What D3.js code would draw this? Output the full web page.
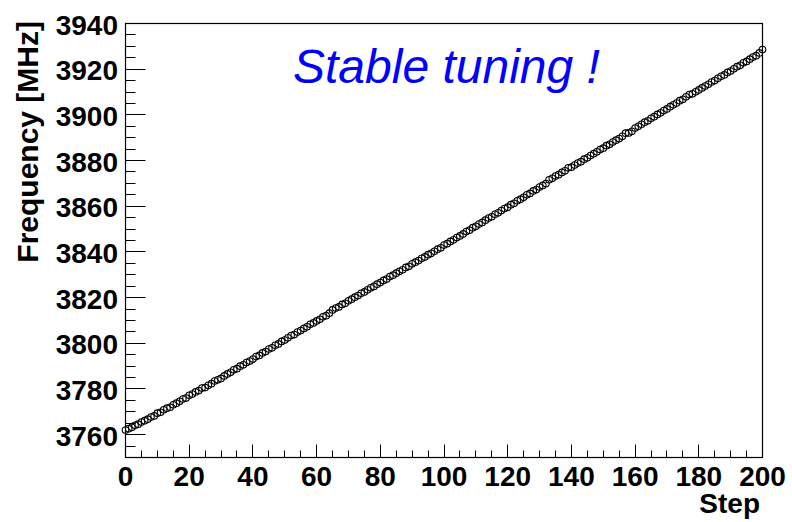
<!DOCTYPE html>
<html>
<head>
<meta charset="utf-8">
<script src="https://cdn.jsdelivr.net/npm/d3@7/dist/d3.min.js"></script>
<style>
  html, body { margin: 0; padding: 0; background: #fff; }
  svg { display: block; }
</style>
</head>
<body>
<svg id="chart" width="792" height="522"></svg>
<script>
'use strict';

// Frequency for steps 0..200
var FREQ = [
  3762.0, 3762.6, 3763.2, 3764.1, 3764.6, 3765.5, 3766.1, 3766.8, 3767.7, 3768.2,
  3769.4, 3769.8, 3770.9, 3771.6, 3772.0, 3773.1, 3773.8, 3774.6, 3775.6, 3776.0,
  3777.2, 3777.8, 3778.7, 3779.3, 3780.4, 3780.6, 3781.6, 3782.3, 3783.5, 3784.0,
  3784.6, 3785.7, 3786.6, 3787.3, 3788.4, 3788.9, 3790.0, 3790.6, 3791.6, 3792.2,
  3793.1, 3794.2, 3794.7, 3795.8, 3796.4, 3797.5, 3798.0, 3799.1, 3799.7, 3800.8,
  3801.4, 3802.4, 3803.4, 3803.8, 3804.9, 3805.6, 3806.5, 3807.2, 3808.3, 3808.9,
  3809.8, 3810.5, 3811.6, 3812.1, 3813.2, 3814.6, 3815.4, 3815.9, 3817.0, 3817.5,
  3818.6, 3819.3, 3820.2, 3820.9, 3821.9, 3822.5, 3823.4, 3824.3, 3824.9, 3825.9,
  3826.6, 3827.5, 3828.1, 3829.2, 3829.8, 3830.7, 3831.5, 3832.2, 3833.2, 3833.7,
  3834.8, 3835.5, 3836.2, 3837.2, 3837.8, 3838.8, 3839.4, 3840.3, 3841.2, 3841.8,
  3843.0, 3843.6, 3844.6, 3845.3, 3846.3, 3847.0, 3847.9, 3848.9, 3849.5, 3850.6,
  3851.2, 3852.2, 3852.9, 3853.9, 3854.8, 3855.4, 3856.5, 3857.1, 3858.1, 3859.0,
  3859.6, 3860.7, 3861.3, 3862.4, 3863.1, 3863.9, 3865.0, 3865.6, 3866.7, 3867.3,
  3868.4, 3869.1, 3869.9, 3871.6, 3872.2, 3873.2, 3873.8, 3874.8, 3875.5, 3876.8,
  3877.1, 3878.0, 3878.9, 3879.5, 3880.6, 3881.2, 3882.2, 3883.0, 3883.8, 3884.8,
  3885.4, 3886.5, 3887.1, 3888.1, 3888.9, 3889.6, 3890.6, 3892.0, 3892.1, 3892.8,
  3894.2, 3895.0, 3895.9, 3896.8, 3897.4, 3898.5, 3899.2, 3900.2, 3900.9, 3901.9,
  3902.6, 3903.6, 3904.4, 3905.2, 3906.2, 3906.8, 3907.9, 3908.9, 3909.2, 3910.1,
  3910.9, 3911.8, 3912.6, 3913.4, 3914.4, 3915.0, 3916.0, 3916.9, 3917.5, 3918.6,
  3919.2, 3920.2, 3921.1, 3921.7, 3922.8, 3923.4, 3924.4, 3925.3, 3925.9, 3927.1,
  3928.6
];
var X_TICKS = [0, 20, 40, 60, 80, 100, 120, 140, 160, 180, 200];
var Y_TICKS = [3760, 3780, 3800, 3820, 3840, 3860, 3880, 3900, 3920, 3940];
var X_DOMAIN = [0, 200];
var Y_DOMAIN = [3750, 3940];
var TITLE_X = 'Step';
var TITLE_Y = 'Frequency [MHz]';
var NOTE = 'Stable tuning !';

(function draw() {
  var svg = d3.select('#chart');
  var left = 125.5, right = 762.5, top = 23.5, bottom = 457.5;
  var font = '"Liberation Sans", Arial, Helvetica, sans-serif';

  var x = d3.scaleLinear().domain(X_DOMAIN).range([left, right]);
  var y = d3.scaleLinear().domain(Y_DOMAIN).range([bottom, top]);

  // minor ticks every 5
  var xMinor = d3.range(X_DOMAIN[0], X_DOMAIN[1] + 1, 5).filter(function (v) { return v % 20 !== 0; });
  var yMinor = d3.range(Y_DOMAIN[0], Y_DOMAIN[1] + 1, 5).filter(function (v) { return v % 20 !== 0; });

  var g = svg.append('g');

  function px(v) { return Math.round(v - 0.5) + 0.5; }

  g.selectAll('line.xmaj').data(X_TICKS).enter().append('line')
    .attr('x1', function (d) { return px(x(d)); })
    .attr('x2', function (d) { return px(x(d)); })
    .attr('y1', bottom).attr('y2', bottom - 13)
    .style('stroke', '#000').style('stroke-width', 1);
  g.selectAll('line.xmin').data(xMinor).enter().append('line')
    .attr('x1', function (d) { return px(x(d)); })
    .attr('x2', function (d) { return px(x(d)); })
    .attr('y1', bottom).attr('y2', bottom - 7)
    .style('stroke', '#000').style('stroke-width', 1);

  g.selectAll('line.ymaj').data(Y_TICKS).enter().append('line')
    .attr('y1', function (d) { return px(y(d)); })
    .attr('y2', function (d) { return px(y(d)); })
    .attr('x1', left).attr('x2', left + 20)
    .style('stroke', '#000').style('stroke-width', 1);
  g.selectAll('line.ymin').data(yMinor).enter().append('line')
    .attr('y1', function (d) { return px(y(d)); })
    .attr('y2', function (d) { return px(y(d)); })
    .attr('x1', left).attr('x2', left + 10)
    .style('stroke', '#000').style('stroke-width', 1);

  g.append('rect')
    .attr('x', left).attr('y', top)
    .attr('width', right - left).attr('height', bottom - top)
    .style('fill', 'none').style('stroke', '#000').style('stroke-width', 1.2);

  // markers
  svg.append('g').selectAll('circle').data(FREQ).enter().append('circle')
    .attr('cx', function (d, i) { return x(i); })
    .attr('cy', function (d) { return y(d); })
    .attr('r', 3.3)
    .style('fill', 'none').style('stroke', '#000').style('stroke-width', 1.1);

  // tick labels
  svg.append('g').selectAll('text').data(X_TICKS).enter().append('text')
    .attr('x', function (d) { return x(d); })
    .attr('y', 486)
    .attr('text-anchor', 'middle')
    .style('font-family', font).style('font-weight', 'bold').style('font-size', '28px')
    .text(function (d) { return d; });

  svg.append('g').selectAll('text').data(Y_TICKS).enter().append('text')
    .attr('x', 118)
    .attr('y', function (d) { return y(d) + 11; })
    .attr('text-anchor', 'end')
    .style('font-family', font).style('font-weight', 'bold').style('font-size', '28px')
    .text(function (d) { return d; });

  svg.append('text')
    .attr('x', 760).attr('y', 513)
    .attr('text-anchor', 'end')
    .style('font-family', font).style('font-weight', 'bold').style('font-size', '28px')
    .text(TITLE_X);

  svg.append('text')
    .attr('transform', 'translate(38,21) rotate(-90)')
    .attr('text-anchor', 'end')
    .style('font-family', font).style('font-weight', 'bold').style('font-size', '30px')
    .text(TITLE_Y);

  svg.append('text')
    .attr('x', 293).attr('y', 83)
    .style('font-family', font).style('font-style', 'italic').style('font-size', '48px')
    .style('fill', '#0000ff')
    .text(NOTE);
}());
</script>
</body>
</html>
